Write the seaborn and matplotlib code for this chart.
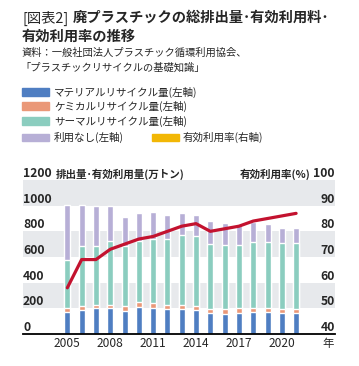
import numpy as np
import pandas as pd
import seaborn as sns
import matplotlib.pyplot as plt
from matplotlib.patches import Rectangle
from matplotlib.transforms import blended_transform_factory

# data (万トン, %)
years = list(range(2005, 2022))
material = [172, 190, 200, 200, 182, 208, 203, 195, 192, 187, 161, 156, 166, 174, 174, 161, 164]
chemical = [31, 31, 29, 26, 39, 42, 36, 31, 32, 34, 34, 36, 34, 31, 31, 34, 34]
thermal = [374, 464, 460, 502, 463, 478, 504, 517, 547, 544, 505, 498, 497, 510, 510, 515, 514]
total = [1006, 1005, 994, 998, 912, 945, 952, 929, 940, 926, 884, 863, 850, 874, 855, 827, 827]
rate = [58, 69, 69, 73, 75, 77, 78, 80, 82, 83, 80, 81, 82, 84, 85, 86, 87]

xtick_years = [2005, 2008, 2011, 2014, 2017, 2020]
left_ticks = [0, 200, 400, 600, 800, 1000]
right_ticks = [40, 50, 60, 70, 80, 90]

legend_labels = ["マテリアルリサイクル量(左軸)", "ケミカルリサイクル量(左軸)",
                 "サーマルリサイクル量(左軸)", "利用なし(左軸)", "有効利用率(右軸)"]

c_blue = "#4f7ec2"
c_orange = "#ea9878"
c_green = "#8bcdbf"
c_purple = "#b7afd6"
c_yellow = "#f2b705"
c_red = "#c3122f"
c_band = "#e7e9ec"

sns.set_theme(style="white")
plt.rcParams["font.family"] = ["Noto Sans CJK JP", "DejaVu Sans"]

W, H = 359, 366
fig = plt.figure(figsize=(W / 100, H / 100), dpi=100)


def fx(px):
    return px / W


def fy(py):
    return 1 - py / H


# header
fig.text(fx(22), fy(18), "[図表2]", fontsize=10.3, va="center", ha="left")
fig.text(fx(73), fy(18), "廃プラスチックの総排出量･有効利用料･", fontsize=10.3,
         fontweight="bold", va="center", ha="left")
fig.text(fx(22), fy(37), "有効利用率の推移", fontsize=10.3, fontweight="bold",
         va="center", ha="left")
fig.text(fx(22), fy(53), "資料：一般社団法人プラスチック循環利用協会、", fontsize=7.4,
         va="center", ha="left")
fig.text(fx(20), fy(68), "「プラスチックリサイクルの基礎知識」", fontsize=7.4,
         va="center", ha="left")

# legend (drawn by hand, layout is not a regular grid)
leg_rows = [92, 106, 121, 137]
leg_colors = [c_blue, c_orange, c_green, c_purple]
for i in range(4):
    fig.add_artist(Rectangle((fx(22), fy(leg_rows[i] + 3.5)), fx(27), 7 / H,
                             color=leg_colors[i], transform=fig.transFigure))
    fig.text(fx(54), fy(leg_rows[i]), legend_labels[i], fontsize=7.6,
             va="center", ha="left")
fig.add_artist(Rectangle((fx(152), fy(leg_rows[3] + 3.5)), fx(27), 7 / H,
                         color=c_yellow, transform=fig.transFigure))
fig.text(fx(183), fy(leg_rows[3]), legend_labels[4], fontsize=7.6,
         va="center", ha="left")

# axes
ax = fig.add_axes([fx(23), fy(334), fx(335 - 23), (334 - 180) / H])

df = pd.DataFrame({"year": [str(y) for y in years],
                   "blue": material,
                   "orange": np.add(material, chemical),
                   "green": np.add(np.add(material, chemical), thermal),
                   "purple": total})

for col, c in [("purple", c_purple), ("green", c_green),
               ("orange", c_orange), ("blue", c_blue)]:
    sns.barplot(data=df, x="year", y=col, color=c, width=0.42, saturation=1,
                ax=ax, zorder=2)

for lo in [200, 600, 1000]:
    ax.axhspan(lo, lo + 200, color=c_band, zorder=0, lw=0)

ax.set_ylim(0, 1200)
ax.set_ylabel("")
ax.set_xlabel("")
ax.set_yticks([])
ax.set_xticks([years.index(y) for y in xtick_years])
ax.set_xticklabels([str(y) for y in xtick_years], fontsize=8.6)
ax.tick_params(axis="x", length=0, pad=2)
for s in ["left", "right", "top"]:
    ax.spines[s].set_visible(False)
ax.spines["bottom"].set_color("black")
ax.spines["bottom"].set_linewidth(1.3)
ax.spines["bottom"].set_zorder(5)

ax2 = ax.twinx()
sns.lineplot(x=np.arange(len(years)), y=rate, color=c_red, linewidth=2.3,
             ax=ax2, zorder=4)
ax2.set_ylim(40, 100)
ax2.set_yticks([])
for s in ax2.spines.values():
    s.set_visible(False)
ax.set_xlim(-3.1, 18.72)
ax2.set_xlim(-3.1, 18.72)

# y labels sit just above their grid values, inside the plot
tl = blended_transform_factory(ax.transAxes, ax.transData)
for v in left_ticks + [1200]:
    ax.text(0.0, v, str(v), transform=tl, ha="left", va="bottom", fontsize=8.8,
            fontweight="bold", clip_on=False, zorder=6)
ax.text(0.106, 1200, "排出量･有効利用量(万トン)", transform=tl, ha="left",
        va="bottom", fontsize=7.6, fontweight="bold", clip_on=False)
tr = blended_transform_factory(ax2.transAxes, ax2.transData)
for v in right_ticks + [100]:
    ax2.text(1.0, v, str(v), transform=tr, ha="right", va="bottom", fontsize=8.8,
             fontweight="bold", clip_on=False, zorder=6)
ax2.text(0.922, 100, "有効利用率(%)", transform=tr, ha="right", va="bottom",
         fontsize=7.6, fontweight="bold", clip_on=False)

fig.text(fx(328), fy(344), "年", fontsize=8.2, va="center", ha="center")

fig.savefig("out.png", dpi=100)
